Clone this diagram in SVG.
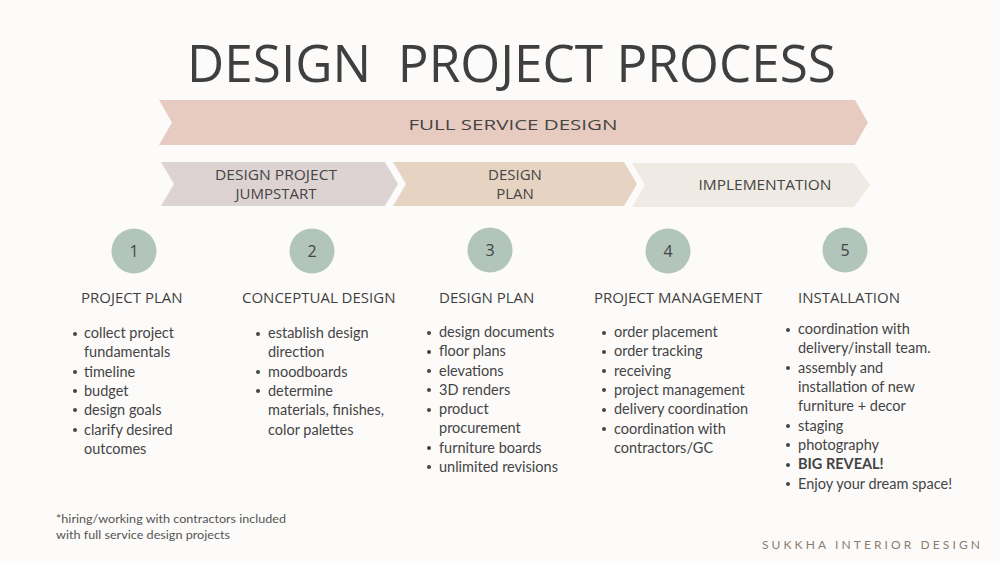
<svg xmlns="http://www.w3.org/2000/svg" width="1000" height="563" viewBox="0 0 1000 563">
<style>
.t{font-family:"Open Sans","Liberation Sans",sans-serif;fill:#3f3f3f}
.band{font-family:"Open Sans","Liberation Sans",sans-serif;fill:#454545;font-size:15px;text-anchor:middle}
.num{font-family:"Open Sans","Liberation Sans",sans-serif;fill:#444;font-size:16px;text-anchor:middle}
.hd{font-family:"Open Sans","Liberation Sans",sans-serif;fill:#3f3f3f;font-size:15px}
.li{font-family:"Lato","Liberation Sans",sans-serif;fill:#444;font-size:14.5px}
.dot{fill:#444}
.circ{fill:#b2c5bb}
</style>
<rect width="1000" height="563" fill="#fcfbfa"/>
<g id="title"><text class="t" x="187" y="82" font-size="52" textLength="649" lengthAdjust="spacingAndGlyphs" xml:space="preserve">DESIGN  PROJECT PROCESS</text></g>
<g id="full-service">
<path d="M159,100 L855,100 L868,122.5 L855,145 L159,145 L172,122.5 Z" fill="#e8cbc0"/>
<text class="band" x="513" y="130" font-size="19" textLength="209" lengthAdjust="spacingAndGlyphs">FULL SERVICE DESIGN</text>
</g>
<g id="jumpstart">
<path d="M161,162 L385,162 L398,184 L385,206 L161,206 L174,184 Z" fill="#ddd3d3"/>
<text class="band" x="276" y="180" textLength="122" lengthAdjust="spacingAndGlyphs">DESIGN PROJECT</text>
<text class="band" x="276" y="199">JUMPSTART</text>
</g>
<g id="design-plan">
<path d="M393,162 L624,162 L637,184 L624,206 L393,206 L406,184 Z" fill="#e6d3c2"/>
<text class="band" x="515" y="180">DESIGN</text>
<text class="band" x="515" y="199">PLAN</text>
</g>
<g id="implementation">
<path d="M632,163 L854,163 L870,185 L854,207 L632,207 L645,185 Z" fill="#efeae3"/>
<text class="band" x="765" y="190" textLength="133" lengthAdjust="spacingAndGlyphs">IMPLEMENTATION</text>
</g>
<g id="step1">
<circle class="circ" cx="134" cy="251" r="22.5"/>
<text class="num" x="134" y="257">1</text>
<text class="hd" x="81" y="303">PROJECT PLAN</text>
<circle class="dot" cx="75" cy="334" r="2"/><text class="li" x="84" y="338">collect project</text>
<text class="li" x="84" y="357">fundamentals</text>
<circle class="dot" cx="75" cy="372" r="2"/><text class="li" x="84" y="377">timeline</text>
<circle class="dot" cx="75" cy="391" r="2"/><text class="li" x="84" y="396">budget</text>
<circle class="dot" cx="75" cy="410" r="2"/><text class="li" x="84" y="415">design goals</text>
<circle class="dot" cx="75" cy="430" r="2"/><text class="li" x="84" y="435">clarify desired</text>
<text class="li" x="84" y="454">outcomes</text>
</g>
<g id="step2">
<circle class="circ" cx="312" cy="251" r="22.5"/>
<text class="num" x="312" y="257">2</text>
<text class="hd" x="242" y="303">CONCEPTUAL DESIGN</text>
<circle class="dot" cx="258" cy="334" r="2"/><text class="li" x="268" y="338">establish design</text>
<text class="li" x="268" y="357">direction</text>
<circle class="dot" cx="258" cy="372" r="2"/><text class="li" x="268" y="377">moodboards</text>
<circle class="dot" cx="258" cy="391" r="2"/><text class="li" x="268" y="396">determine</text>
<text class="li" x="268" y="415">materials, finishes,</text>
<text class="li" x="268" y="435">color palettes</text>
</g>
<g id="step3">
<circle class="circ" cx="490" cy="250" r="22.5"/>
<text class="num" x="490" y="256">3</text>
<text class="hd" x="439" y="303">DESIGN PLAN</text>
<circle class="dot" cx="429" cy="333" r="2"/><text class="li" x="439" y="337">design documents</text>
<circle class="dot" cx="429" cy="352" r="2"/><text class="li" x="439" y="356">floor plans</text>
<circle class="dot" cx="429" cy="371" r="2"/><text class="li" x="439" y="376">elevations</text>
<circle class="dot" cx="429" cy="390" r="2"/><text class="li" x="439" y="395">3D renders</text>
<circle class="dot" cx="429" cy="410" r="2"/><text class="li" x="439" y="414">product</text>
<text class="li" x="439" y="433">procurement</text>
<circle class="dot" cx="429" cy="448" r="2"/><text class="li" x="439" y="453">furniture boards</text>
<circle class="dot" cx="429" cy="467" r="2"/><text class="li" x="439" y="472">unlimited revisions</text>
</g>
<g id="step4">
<circle class="circ" cx="668" cy="251" r="22.5"/>
<text class="num" x="668" y="257">4</text>
<text class="hd" x="594" y="303">PROJECT MANAGEMENT</text>
<circle class="dot" cx="604" cy="333" r="2"/><text class="li" x="614" y="337">order placement</text>
<circle class="dot" cx="604" cy="352" r="2"/><text class="li" x="614" y="356">order tracking</text>
<circle class="dot" cx="604" cy="371" r="2"/><text class="li" x="614" y="376">receiving</text>
<circle class="dot" cx="604" cy="390" r="2"/><text class="li" x="614" y="395">project management</text>
<circle class="dot" cx="604" cy="410" r="2"/><text class="li" x="614" y="414">delivery coordination</text>
<circle class="dot" cx="604" cy="429" r="2"/><text class="li" x="614" y="434">coordination with</text>
<text class="li" x="614" y="453">contractors/GC</text>
</g>
<g id="step5">
<circle class="circ" cx="845" cy="250" r="22.5"/>
<text class="num" x="845" y="256">5</text>
<text class="hd" x="798" y="303">INSTALLATION</text>
<circle class="dot" cx="788" cy="330" r="2"/><text class="li" x="798" y="334">coordination with</text>
<text class="li" x="798" y="353">delivery/install team.</text>
<circle class="dot" cx="788" cy="368" r="2"/><text class="li" x="798" y="373">assembly and</text>
<text class="li" x="798" y="392">installation of new</text>
<text class="li" x="798" y="411">furniture + decor</text>
<circle class="dot" cx="788" cy="426" r="2"/><text class="li" x="798" y="431">staging</text>
<circle class="dot" cx="788" cy="445" r="2"/><text class="li" x="798" y="450">photography</text>
<circle class="dot" cx="788" cy="465" r="2"/><text class="li" x="798" y="469" font-weight="bold">BIG REVEAL!</text>
<circle class="dot" cx="788" cy="484" r="2"/><text class="li" x="798" y="489">Enjoy your dream space!</text>
</g>
<g id="footer">
<text x="56" y="523" font-family="Lato,'Liberation Sans',sans-serif" font-size="10.5" fill="#555" textLength="230" lengthAdjust="spacingAndGlyphs">*hiring/working with contractors included</text>
<text x="56" y="539" font-family="Lato,'Liberation Sans',sans-serif" font-size="10.5" fill="#555" textLength="174" lengthAdjust="spacingAndGlyphs">with full service design projects</text>
<text x="762" y="549" font-family="Lato,'Liberation Sans',sans-serif" font-size="12" fill="#8b7b72" textLength="218" lengthAdjust="spacing">SUKKHA INTERIOR DESIGN</text>
</g>
</svg>
